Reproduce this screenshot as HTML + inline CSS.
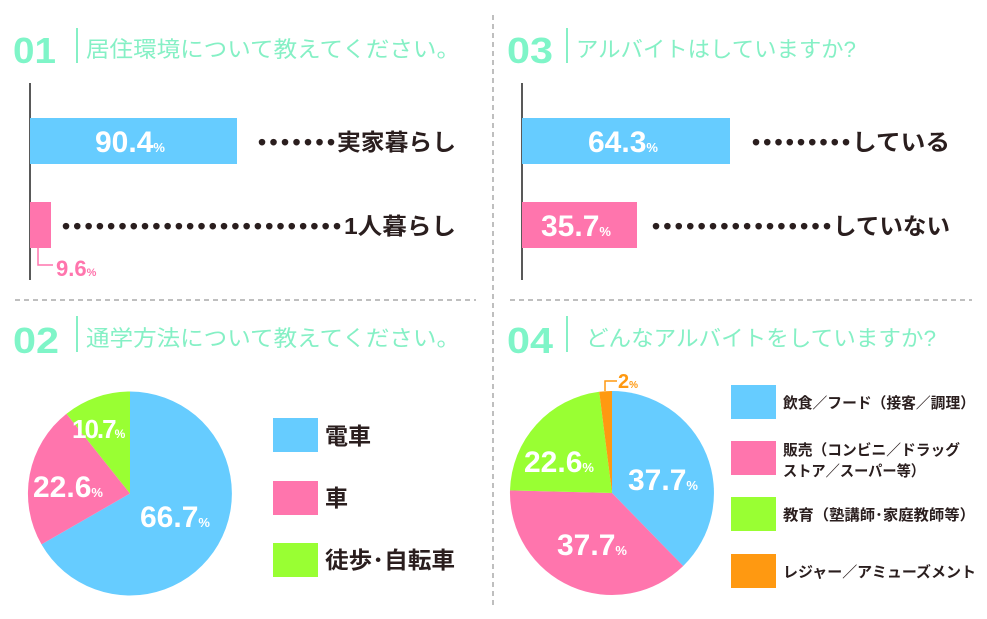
<!DOCTYPE html>
<html><head><meta charset="utf-8"><style>
html,body{margin:0;padding:0;background:#fff;}
svg{display:block;}
text{font-family:"Liberation Sans","Noto Sans CJK JP",sans-serif;}
.num{font-weight:bold;fill:#fff;}
.h{font-size:36px;font-weight:bold;fill:#7ff5c8;}
.t{font-size:22px;fill:#85f0c5;}
.lab{font-size:23px;font-weight:bold;fill:#2a1e1e;}
.dots{font-size:23px;font-weight:bold;fill:#2a1e1e;}
.lg{font-size:15px;font-weight:bold;fill:#2a1e1e;}
</style></head><body>
<svg width="987" height="619" viewBox="0 0 987 619" xmlns="http://www.w3.org/2000/svg">
<line x1="493" y1="15" x2="493" y2="605" stroke="#aaa" stroke-width="1.5" stroke-dasharray="5,4"/>
<line x1="15" y1="300" x2="476" y2="300" stroke="#aaa" stroke-width="1.5" stroke-dasharray="5,4"/>
<line x1="510" y1="300" x2="972" y2="300" stroke="#aaa" stroke-width="1.5" stroke-dasharray="5,4"/>

<!-- 01 -->
<text x="13" y="63" class="h" textLength="43" lengthAdjust="spacingAndGlyphs">01</text>
<line x1="77" y1="28" x2="77" y2="63" stroke="#85f0c5" stroke-width="2"/>
<text x="86" y="57" class="t" textLength="374" lengthAdjust="spacingAndGlyphs">居住環境について教えてください。</text>
<line x1="30" y1="83" x2="30" y2="280" stroke="#222" stroke-width="1.5"/>
<rect x="30" y="118" width="207" height="46" fill="#66ccff"/>
<text x="95" y="152" class="num" font-size="30">90.4<tspan font-size="13">%</tspan></text>
<text x="258" y="150" class="dots" textLength="77" lengthAdjust="spacing">•••••••</text>
<text x="337" y="150" class="lab" textLength="119" lengthAdjust="spacingAndGlyphs">実家暮らし</text>
<rect x="30" y="202" width="21" height="46" fill="#ff75ad"/>
<text x="62" y="234" class="dots" textLength="279" lengthAdjust="spacing">•••••••••••••••••••••••••</text>
<text x="344" y="234" class="lab" textLength="112" lengthAdjust="spacingAndGlyphs">1人暮らし</text>
<polyline points="38,248 38,265 53,265" fill="none" stroke="#ff75ad" stroke-width="1.5"/>
<text x="56" y="276" font-size="22" font-weight="bold" fill="#ff75ad">9.6<tspan font-size="11">%</tspan></text>

<!-- 03 -->
<text x="507" y="63" class="h" textLength="46" lengthAdjust="spacingAndGlyphs">03</text>
<line x1="567" y1="28" x2="567" y2="63" stroke="#85f0c5" stroke-width="2"/>
<text x="576" y="57" class="t" textLength="280" lengthAdjust="spacingAndGlyphs">アルバイトはしていますか?</text>
<line x1="522" y1="83" x2="522" y2="280" stroke="#222" stroke-width="1.5"/>
<rect x="522" y="118" width="208" height="46" fill="#66ccff"/>
<text x="588" y="152" class="num" font-size="30">64.3<tspan font-size="13">%</tspan></text>
<text x="752" y="150" class="dots" textLength="98" lengthAdjust="spacing">•••••••••</text>
<text x="852" y="150" class="lab" textLength="98" lengthAdjust="spacingAndGlyphs">している</text>
<rect x="522" y="202" width="115" height="46" fill="#ff75ad"/>
<text x="541" y="236" class="num" font-size="30">35.7<tspan font-size="13">%</tspan></text>
<text x="652" y="234" class="dots" textLength="179" lengthAdjust="spacing">••••••••••••••••</text>
<text x="833" y="234" class="lab" textLength="117" lengthAdjust="spacingAndGlyphs">していない</text>

<!-- 02 -->
<text x="13" y="353" class="h" textLength="46" lengthAdjust="spacingAndGlyphs">02</text>
<line x1="77" y1="316" x2="77" y2="352" stroke="#85f0c5" stroke-width="2"/>
<text x="86" y="346" class="t" textLength="374" lengthAdjust="spacingAndGlyphs">通学方法について教えてください。</text>
<path d="M130,493.5 L130,391.5 A102,102 0 1,1 41.5,544.4 Z" fill="#66ccff"/>
<path d="M130,493.5 L41.5,544.4 A102,102 0 0,1 66.5,413.7 Z" fill="#ff75ad"/>
<path d="M130,493.5 L66.5,413.7 A102,102 0 0,1 130,391.5 Z" fill="#99ff33"/>
<text x="140" y="527" class="num" font-size="30">66.7<tspan font-size="13">%</tspan></text>
<text x="33" y="497" class="num" font-size="30">22.6<tspan font-size="13">%</tspan></text>
<text x="72" y="438" class="num" font-size="26" letter-spacing="-2">10.7<tspan font-size="12">%</tspan></text>
<rect x="273" y="418" width="45" height="34" fill="#66ccff"/>
<rect x="273" y="481" width="45" height="34" fill="#ff75ad"/>
<rect x="273" y="543" width="45" height="34" fill="#99ff33"/>
<text x="325" y="444" class="lab">電車</text>
<text x="325" y="506" class="lab">車</text>
<text x="325" y="568" class="lab" textLength="130" lengthAdjust="spacingAndGlyphs">徒歩･自転車</text>

<!-- 04 -->
<text x="507" y="353" class="h" textLength="46" lengthAdjust="spacingAndGlyphs">04</text>
<line x1="567" y1="316" x2="567" y2="352" stroke="#85f0c5" stroke-width="2"/>
<text x="586" y="346" class="t" textLength="350" lengthAdjust="spacingAndGlyphs">どんなアルバイトをしていますか?</text>
<path d="M612,493 L612,391 A102,102 0 0,1 683.2,566 Z" fill="#66ccff"/>
<path d="M612,493 L683.2,566 A102,102 0 0,1 510,490.4 Z" fill="#ff75ad"/>
<path d="M612,493 L510,490.4 A102,102 0 0,1 599.2,391.8 Z" fill="#99ff33"/>
<path d="M612,493 L599.2,391.8 A102,102 0 0,1 612,391 Z" fill="#ff9911"/>
<polyline points="605,391 605,381 617,381" fill="none" stroke="#ff9911" stroke-width="1.5"/>
<text x="618" y="388" font-size="20" font-weight="bold" fill="#ff9911">2<tspan font-size="10">%</tspan></text>
<text x="628" y="490" class="num" font-size="30">37.7<tspan font-size="13">%</tspan></text>
<text x="557" y="555" class="num" font-size="30">37.7<tspan font-size="13">%</tspan></text>
<text x="524" y="472" class="num" font-size="30">22.6<tspan font-size="13">%</tspan></text>
<rect x="731" y="385" width="45" height="34" fill="#66ccff"/>
<rect x="731" y="441" width="45" height="34" fill="#ff75ad"/>
<rect x="731" y="497" width="45" height="34" fill="#99ff33"/>
<rect x="731" y="554" width="45" height="34" fill="#ff9911"/>
<text x="783" y="408" class="lg" textLength="192" lengthAdjust="spacingAndGlyphs">飲食／フード（接客／調理）</text>
<text x="783" y="455" class="lg" textLength="177" lengthAdjust="spacingAndGlyphs">販売（コンビニ／ドラッグ</text>
<text x="783" y="476" class="lg" textLength="142" lengthAdjust="spacingAndGlyphs">ストア／スーパー等）</text>
<text x="783" y="520" class="lg" textLength="192" lengthAdjust="spacingAndGlyphs">教育（塾講師･家庭教師等）</text>
<text x="783" y="577" class="lg" textLength="193" lengthAdjust="spacingAndGlyphs">レジャー／アミューズメント</text>
</svg>
</body></html>
